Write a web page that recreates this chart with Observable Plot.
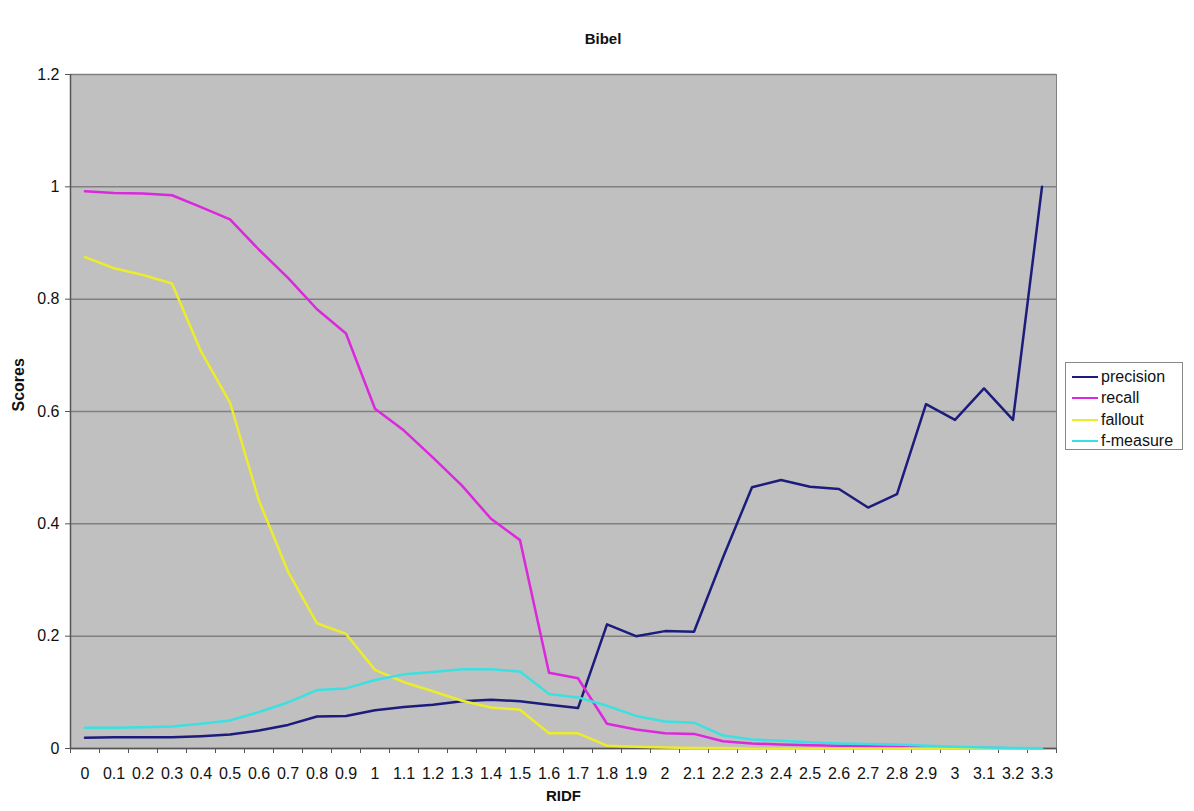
<!DOCTYPE html>
<html>
<head>
<meta charset="utf-8">
<script src="https://cdn.jsdelivr.net/npm/d3@7"></script>
<script src="https://cdn.jsdelivr.net/npm/@observablehq/plot@0.6"></script>
<style>
  html, body { margin: 0; padding: 0; background: #fff; }
  #wrap { position: relative; width: 1194px; height: 811px; font-family: Arial, "Liberation Sans", sans-serif; }
  #title { position: absolute; left: 0; width: 1194px; top: 30px; text-align: center; font-weight: bold; font-size: 15px; color: #111; padding-left: 12px; box-sizing: border-box; }
  #legend { position: absolute; left: 1065px; top: 362px; width: 118px; height: 88px; border: 1px solid #888; background: #fff; box-sizing: border-box; padding-top: 3px; }
  .item { display: flex; align-items: center; height: 21.5px; font-size: 16px; color: #111; }
  .sw { width: 26px; height: 0; border-top: 2.5px solid; margin-left: 6px; margin-right: 3px; }
  #chart { position: absolute; left: 0; top: 0; }
</style>
</head>
<body>
<div id="wrap">
  <div id="chart"></div>
  <div id="title">Bibel</div>
  <div id="legend"></div>
</div>
<script>
const ridf = ["0","0.1","0.2","0.3","0.4","0.5","0.6","0.7","0.8","0.9","1","1.1","1.2","1.3","1.4","1.5","1.6","1.7","1.8","1.9","2","2.1","2.2","2.3","2.4","2.5","2.6","2.7","2.8","2.9","3","3.1","3.2","3.3"];

const precision = [0.019,0.020,0.020,0.020,0.022,0.025,0.032,0.042,0.057,0.058,0.068,0.074,0.078,0.084,0.087,0.084,0.078,0.072,0.221,0.200,0.209,0.208,0.340,0.465,0.478,0.466,0.462,0.429,0.453,0.613,0.585,0.641,0.585,1.000];
const recall    = [0.992,0.989,0.988,0.985,0.964,0.942,0.888,0.838,0.782,0.739,0.605,0.566,0.518,0.468,0.409,0.371,0.135,0.125,0.044,0.034,0.027,0.026,0.013,0.009,0.007,0.006,0.005,0.004,0.003,0.002,0.001,0.001,0.0005,0.0];
const fallout   = [0.875,0.855,0.843,0.828,0.707,0.616,0.441,0.315,0.223,0.204,0.140,0.118,0.102,0.085,0.073,0.069,0.027,0.027,0.005,0.003,0.002,0.001,0.001,0.0,0.0,0.0,0.0,0.0,0.0,0.0,0.0,0.0,0.0,0.0];
const fmeasure  = [0.037,0.037,0.038,0.039,0.044,0.050,0.065,0.082,0.104,0.107,0.122,0.132,0.136,0.141,0.141,0.137,0.097,0.091,0.076,0.058,0.048,0.046,0.023,0.016,0.014,0.011,0.009,0.008,0.007,0.005,0.003,0.002,0.001,0.0005];

const seriesNames = ["precision","recall","fallout","f-measure"];
const seriesColors = ["#1c1c7c","#dc28dc","#ecec2c","#3ce0e0"];
const seriesValues = [precision, recall, fallout, fmeasure];
const yTicks = [0,0.2,0.4,0.6,0.8,1,1.2];

const rows = [];
seriesNames.forEach((s, k) => {
  seriesValues[k].forEach((v, i) => rows.push({series: s, i, value: v}));
});

const idx = ridf.map((_, i) => i);
const between = d3.range(-0.5, ridf.length, 1);

const marks = [
  Plot.frame({fill: "#c0c0c0", stroke: "#808080"}),
  Plot.gridY(yTicks, {stroke: "#808080", strokeOpacity: 1, strokeWidth: 1.5}),
  Plot.ruleX([-0.5], {stroke: "#555", strokeWidth: 1.5}),
  Plot.ruleY([0], {stroke: "#555", strokeWidth: 1.5}),
  Plot.axisY({ticks: yTicks, tickFormat: "~g", tickSize: 5, tickPadding: 6, fontSize: 16, label: null, stroke: "#555"}),
  Plot.axisX({ticks: between, tickFormat: () => "", tickSize: 5, label: null, stroke: "#555"}),
  Plot.axisX({ticks: idx, tickFormat: i => ridf[i], tickSize: 0, tickPadding: 19, fontSize: 16, label: null}),
  Plot.text(["Scores"], {frameAnchor: "left", dx: -52, rotate: -90, fontWeight: "bold", fontSize: 16, fill: "#111"}),
  Plot.text(["RIDF"], {frameAnchor: "bottom", dy: 52, fontWeight: "bold", fontSize: 15, fill: "#111"}),
];
seriesNames.forEach((s, k) => {
  marks.push(Plot.line(rows.filter(d => d.series === s), {x: "i", y: "value", stroke: seriesColors[k], strokeWidth: 2.5}));
});

const chart = Plot.plot({
  width: 1194,
  height: 811,
  marginLeft: 70,
  marginRight: 138,
  marginTop: 74,
  marginBottom: 63,
  style: {fontFamily: "Arial, 'Liberation Sans', sans-serif", color: "#111", background: "transparent"},
  x: {domain: [-0.5, ridf.length - 0.5]},
  y: {domain: [0, 1.2]},
  marks
});
document.getElementById("chart").appendChild(chart);

const legend = document.getElementById("legend");
seriesNames.forEach((s, k) => {
  const it = document.createElement("div");
  it.className = "item";
  const sw = document.createElement("span");
  sw.className = "sw";
  sw.style.borderTopColor = seriesColors[k];
  const tx = document.createElement("span");
  tx.textContent = s;
  it.appendChild(sw); it.appendChild(tx);
  legend.appendChild(it);
});
</script>
</body>
</html>
